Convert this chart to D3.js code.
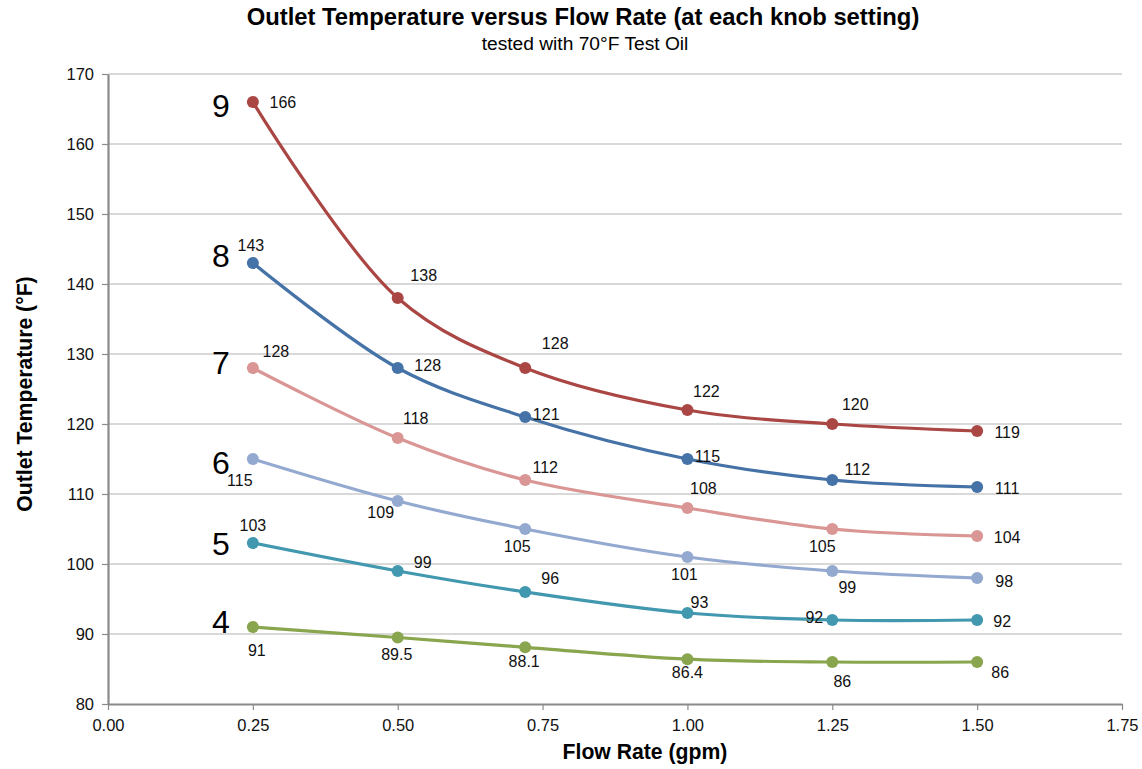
<!DOCTYPE html>
<html>
<head>
<meta charset="utf-8">
<script src="https://cdn.jsdelivr.net/npm/d3@7"></script>
<style>
  html, body { margin: 0; padding: 0; background: #fff; }
  svg { display: block; font-family: "Liberation Sans", Arial, Helvetica, sans-serif; }
</style>
</head>
<body>
<svg id="chart" width="1142" height="769"></svg>
<script>
// ---------------- DATA ----------------
const flowRates = [0.25, 0.50, 0.72, 1.00, 1.25, 1.50];
const knobSettings = ["9", "8", "7", "6", "5", "4"];
const temps9 = [166, 138, 128, 122, 120, 119];
const temps8 = [143, 128, 121, 115, 112, 111];
const temps7 = [128, 118, 112, 108, 105, 104];
const temps6 = [115, 109, 105, 101, 99, 98];
const temps5 = [103, 99, 96, 93, 92, 92];
const temps4 = [91, 89.5, 88.1, 86.4, 86, 86];
const xTickValues = [0, 0.25, 0.50, 0.75, 1.00, 1.25, 1.50, 1.75];
const yTickValues = [80, 90, 100, 110, 120, 130, 140, 150, 160, 170];
const chartTitle = "Outlet Temperature versus Flow Rate (at each knob setting)";
const chartSubtitle = "tested with 70°F Test Oil";
const xAxisTitle = "Flow Rate (gpm)";
const yAxisTitle = "Outlet Temperature (°F)";

// ---------------- LAYOUT / STYLE ----------------
const seriesValues = [temps9, temps8, temps7, temps6, temps5, temps4];
const colors = ["#AA4643", "#4572A7", "#D99694", "#93A9CF", "#4198AF", "#89A54E"];
// data-label nudges (label centre relative to point), per series / point
const labelNudges = [
  [[30, 0], [26, -23], [30, -25], [19, -19], [23, -20], [30, 1]],
  [[-2, -18], [30, -3], [21, -3], [20, -3], [25, -11], [30, 1]],
  [[23, -17], [18, -20], [20, -13], [16, -20], [-10, 17], [30, 1]],
  [[-13, 21], [-17, 11], [-8, 17], [-3, 17], [15, 16], [27, 3]],
  [[0, -18], [25, -9], [25, -14], [12, -11], [-18, -3], [25, 1]],
  [[4, 23], [-1, 17], [-1, 14], [0, 13], [10, 19], [23, 10]]
];
const knobNudgeY = [3, -8, -6, 3, 0, -6];

const svg = d3.select("#chart");
const x = d3.scaleLinear().domain([0, 1.75]).range([108, 1122]);
const y = d3.scaleLinear().domain([80, 170]).range([704, 74]);

// gridlines
svg.append("g").selectAll("line")
  .data(yTickValues.filter(v => v !== 80))
  .join("line")
  .attr("x1", x(0)).attr("x2", x(1.75))
  .attr("y1", d => y(d)).attr("y2", d => y(d))
  .attr("stroke", "#b4b4b4").attr("stroke-width", 1.2);

// axes
const xAxis = svg.append("g").attr("transform", `translate(0,${y(80)})`)
  .call(d3.axisBottom(x).tickValues(xTickValues).tickFormat(d3.format(".2f")).tickSizeInner(6).tickSizeOuter(0).tickPadding(9));
const yAxis = svg.append("g").attr("transform", `translate(${x(0)},0)`)
  .call(d3.axisLeft(y).tickValues(yTickValues).tickFormat(d3.format("d")).tickSizeInner(6).tickSizeOuter(0).tickPadding(8));
[xAxis, yAxis].forEach(g => {
  g.select(".domain").attr("stroke", "#8a8a8a").attr("stroke-width", 2.2);
  g.selectAll(".tick line").attr("stroke", "#8a8a8a").attr("stroke-width", 1.2);
  g.selectAll(".tick text").attr("fill", "#111").style("font-size", "16.5px")
    .style("font-family", '"Liberation Sans", Arial, sans-serif');
});

// lines
const line = d3.line()
  .x(d => x(d[0])).y(d => y(d[1]))
  .curve(d3.curveCatmullRom.alpha(0.5));

seriesValues.forEach((vals, si) => {
  const pts = flowRates.map((f, i) => [f, vals[i]]);
  svg.append("path").datum(pts)
    .attr("d", line)
    .attr("fill", "none")
    .attr("stroke", colors[si])
    .attr("stroke-width", 3.2)
    .attr("stroke-linejoin", "round");
  svg.append("g").selectAll("circle").data(pts).join("circle")
    .attr("cx", d => x(d[0])).attr("cy", d => y(d[1]))
    .attr("r", 6).attr("fill", colors[si]);
  svg.append("g").selectAll("text").data(pts).join("text")
    .attr("x", (d, i) => x(d[0]) + labelNudges[si][i][0])
    .attr("y", (d, i) => y(d[1]) + labelNudges[si][i][1])
    .attr("text-anchor", "middle")
    .attr("dy", "0.35em")
    .attr("fill", "#111")
    .style("font-size", "16px")
    .text(d => d[1]);
  // knob setting label
  svg.append("text")
    .attr("x", 221)
    .attr("y", y(vals[0]) + knobNudgeY[si])
    .attr("dy", "0.36em")
    .attr("text-anchor", "middle")
    .attr("fill", "#000")
    .style("font-size", "32px")
    .text(knobSettings[si]);
});

// titles
svg.append("text").attr("x", 583).attr("y", 25).attr("text-anchor", "middle")
  .style("font-size", "23.8px").style("font-weight", "bold").attr("fill", "#000").text(chartTitle);
svg.append("text").attr("x", 585).attr("y", 50).attr("text-anchor", "middle")
  .style("font-size", "19.2px").attr("fill", "#000").text(chartSubtitle);
svg.append("text").attr("x", 645).attr("y", 759).attr("text-anchor", "middle")
  .style("font-size", "21.2px").style("font-weight", "bold").attr("fill", "#000").text(xAxisTitle);
svg.append("text").attr("transform", "translate(32,394) rotate(-90)").attr("text-anchor", "middle")
  .style("font-size", "21.2px").style("font-weight", "bold").attr("fill", "#000").text(yAxisTitle);
</script>
</body>
</html>
